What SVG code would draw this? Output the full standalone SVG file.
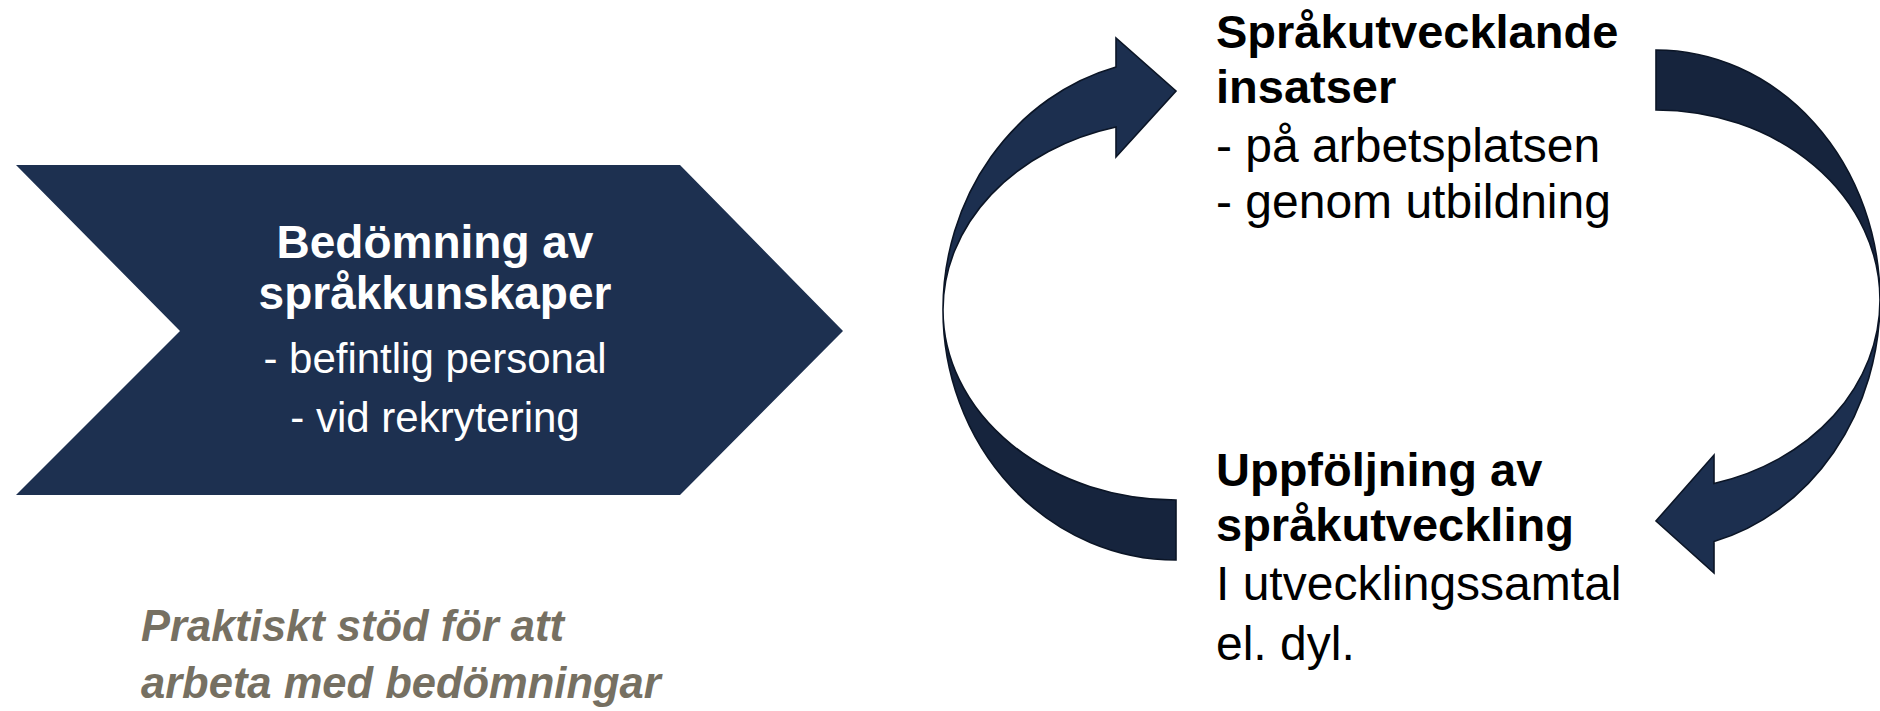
<svg xmlns="http://www.w3.org/2000/svg" width="1880" height="711" viewBox="0 0 1880 711">
<style>
  .bold{font-family:"Liberation Sans",Arial,sans-serif;font-weight:bold;}
  .reg{font-family:"Liberation Sans",Arial,sans-serif;}
  .w{fill:#ffffff;}
  .k{fill:#000000;}
  .note{font-family:"Liberation Sans",Arial,sans-serif;font-weight:bold;font-style:italic;fill:#767062;font-size:43.5px;}
  .arr{stroke:#0b1526;stroke-width:1.6;stroke-linejoin:miter;}
  .light{fill:#1c2f4f;}
  .dark{fill:#16243d;}
</style>
<rect width="1880" height="711" fill="#ffffff"/>
<g id="node-bedomning">
  <polygon points="16,165 680,165 843,331 680,495 16,495 180,331" fill="#1d3050"/>
  <text class="bold w" x="435" y="258" font-size="46" text-anchor="middle">Bedömning av</text>
  <text class="bold w" x="435" y="309" font-size="46" text-anchor="middle">språkkunskaper</text>
  <text class="reg w" x="435" y="373" font-size="42" text-anchor="middle">- befintlig personal</text>
  <text class="reg w" x="435" y="432" font-size="42" text-anchor="middle">- vid rekrytering</text>
</g>
<g id="node-insatser">
  <text class="bold k" x="1216" y="48" font-size="47">Språkutvecklande</text>
  <text class="bold k" x="1216" y="103" font-size="47">insatser</text>
  <text class="reg k" x="1216" y="162" font-size="48">- på arbetsplatsen</text>
  <text class="reg k" x="1216" y="218" font-size="48">- genom utbildning</text>
</g>
<g id="node-uppfoljning">
  <text class="bold k" x="1216" y="486" font-size="47">Uppföljning av</text>
  <text class="bold k" x="1216" y="541" font-size="47">språkutveckling</text>
  <text class="reg k" x="1216" y="600" font-size="48">I utvecklingssamtal</text>
  <text class="reg k" x="1216" y="660" font-size="48">el. dyl.</text>
</g>
<g id="node-note">
  <text class="note" x="141" y="641">Praktiskt stöd för att</text>
  <text class="note" x="141" y="698">arbeta med bedömningar</text>
</g>
<g id="connectors">
  <path class="arr dark" d="M1176,560 A233,250 0 0 1 943,310 A233,190 0 0 0 1176,500 Z"/>
  <path class="arr light" d="M943,310 A233,251 0 0 1 1116,67 L1116,38 L1176,91 L1116,157 L1116,127 A233,189 0 0 0 943,310 Z"/>
  <path class="arr dark" d="M1656,50 A224,250 0 0 1 1880,300 A224,190 0 0 0 1656,110 Z"/>
  <path class="arr light" d="M1880,300 A224,250 0 0 1 1714,541.5 L1714,573 L1656,521 L1714,455 L1714,483.5 A224,190 0 0 0 1880,300 Z"/>
</g>
</svg>
